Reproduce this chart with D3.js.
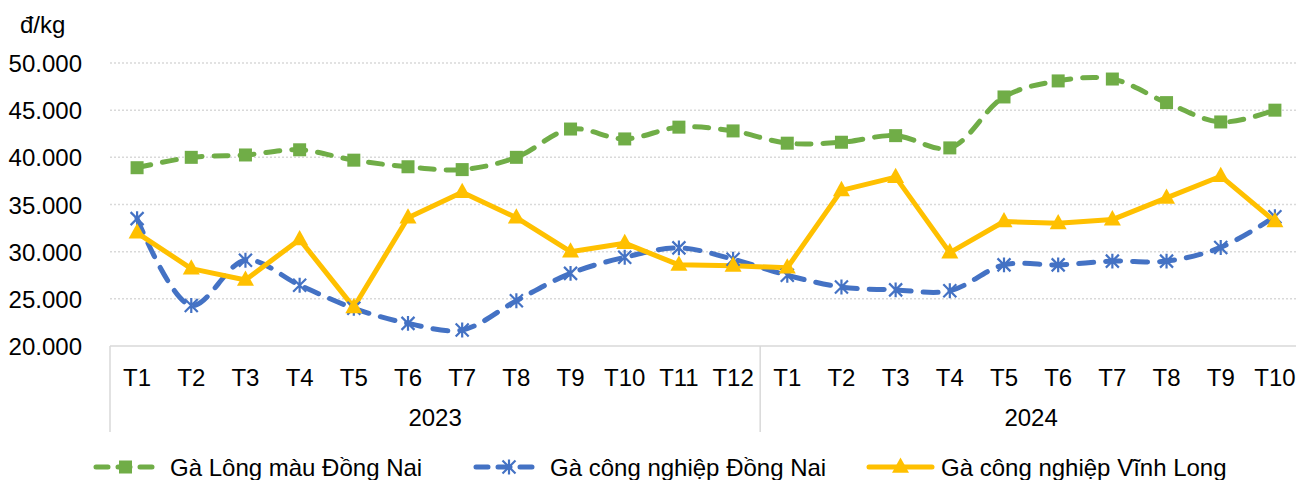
<!DOCTYPE html>
<html>
<head>
<meta charset="utf-8">
<script src="https://cdn.jsdelivr.net/npm/d3@7"></script>
<style>
  body { margin: 0; background: #fff; }
  svg { display: block; font-family: "Liberation Sans", Arial, sans-serif; }
</style>
</head>
<body>
<script>
// data
const years = ["2023", "2024"];
const months2023 = ["T1","T2","T3","T4","T5","T6","T7","T8","T9","T10","T11","T12"];
const months2024 = ["T1","T2","T3","T4","T5","T6","T7","T8","T9","T10"];
const yTicks = [20000, 25000, 30000, 35000, 40000, 45000, 50000];

const gaLongMauDongNai = [38900, 40000, 40250, 40800, 39700, 39000, 38700, 40000, 43000, 41950, 43200, 42800,
                          41500, 41600, 42300, 41000, 46400, 48100, 48300, 45800, 43750, 45000];
const gaCongNghiepDongNai = [33500, 24300, 29100, 26450, 24000, 22400, 21700, 24800, 27700, 29400, 30400, 29200,
                             27500, 26250, 25950, 25850, 28600, 28600, 29000, 29000, 30450, 33700];
const gaCongNghiepVinhLong = [32000, 28200, 27000, 31300, 24100, 33600, 36300, 33600, 30000, 30900, 28600, 28500,
                              28300, 36500, 37900, 29900, 33200, 33000, 33400, 35700, 38000, 33200];

const seriesNames = ["Gà Lông màu Đồng Nai", "Gà công nghiệp Đồng Nai", "Gà công nghiệp Vĩnh Long"];

const W = 1296, H = 480;
const margin = {left: 110, top: 63, bottom: 346};
const plotRight = 1302;   // the plot runs slightly past the right edge

const cats = [].concat(months2023.map(m => "2023-" + m), months2024.map(m => "2024-" + m));
const x = d3.scaleBand().domain(cats).range([margin.left, plotRight]);
const y = d3.scaleLinear().domain([20000, 50000]).range([margin.bottom, margin.top]);

const loc = d3.formatLocale({decimal: ",", thousands: ".", grouping: [3], currency: ["", ""]});
const fmt = loc.format(",");

const svg = d3.select("body").append("svg").attr("width", W).attr("height", H);

const green = "#70AD47", blue = "#4472C4", gold = "#FFC000", grid = "#D9D9D9";
const fontSize = 24;

// gridlines
svg.append("g").selectAll("line")
  .data(yTicks.filter(d => d > 20000))
  .join("line")
  .attr("x1", margin.left).attr("x2", W)
  .attr("y1", d => y(d)).attr("y2", d => y(d))
  .attr("stroke", grid).attr("stroke-width", 1.5)
  .attr("stroke-dasharray", "2,2");

// y axis labels
const yAxis = d3.axisLeft(y).tickValues(yTicks).tickSize(0).tickPadding(0).tickFormat(fmt);
const gy = svg.append("g").attr("transform", "translate(82,0)").call(yAxis);
gy.select(".domain").remove();
gy.selectAll("text")
  .attr("font-size", fontSize).attr("font-family", "Liberation Sans, Arial, sans-serif")
  .attr("fill", "#000").attr("dy", "0.36em");

svg.append("text").attr("x", 20).attr("y", 33)
  .attr("font-size", fontSize).attr("fill", "#000").text("đ/kg");

// category axis
svg.append("line").attr("x1", margin.left).attr("x2", W)
  .attr("y1", margin.bottom).attr("y2", margin.bottom)
  .attr("stroke", grid).attr("stroke-width", 1.5);

const xAxis = d3.axisBottom(x).tickSize(0).tickPadding(0).tickFormat(d => d.split("-")[1]);
const gx = svg.append("g").attr("transform", `translate(0,${margin.bottom})`).call(xAxis);
gx.select(".domain").remove();
gx.selectAll("text")
  .attr("font-size", fontSize).attr("font-family", "Liberation Sans, Arial, sans-serif")
  .attr("fill", "#000").attr("y", 40).attr("dy", 0);

// year groups
const yearStart = {"2023": cats[0], "2024": cats[12]};
const yearEnd = {"2023": cats[11], "2024": cats[cats.length - 1]};
const dividers = [x(cats[0]), x(cats[12]), plotRight];
svg.append("g").selectAll("line").data(dividers).join("line")
  .attr("x1", d => d).attr("x2", d => d)
  .attr("y1", margin.bottom).attr("y2", 432)
  .attr("stroke", grid).attr("stroke-width", 1.5);

svg.append("g").selectAll("text").data(years).join("text")
  .attr("x", d => (x(yearStart[d]) + x(yearEnd[d]) + x.bandwidth()) / 2)
  .attr("y", 426)
  .attr("text-anchor", "middle")
  .attr("font-size", fontSize).attr("fill", "#000")
  .text(d => d);

// lines
const cx = i => x(cats[i]) + x.bandwidth() / 2;
const smooth = d3.line().x((d, i) => cx(i)).y(d => y(d)).curve(d3.curveCatmullRom.alpha(0.5));
const straight = d3.line().x((d, i) => cx(i)).y(d => y(d));

const plot = svg.append("g");

plot.append("path").datum(gaLongMauDongNai)
  .attr("d", smooth).attr("fill", "none")
  .attr("stroke", green).attr("stroke-width", 5)
  .attr("stroke-dasharray", "14,12").attr("stroke-linecap", "round");

plot.append("path").datum(gaCongNghiepDongNai)
  .attr("d", smooth).attr("fill", "none")
  .attr("stroke", blue).attr("stroke-width", 5)
  .attr("stroke-dasharray", "15,12").attr("stroke-linecap", "round");

plot.append("path").datum(gaCongNghiepVinhLong)
  .attr("d", straight).attr("fill", "none")
  .attr("stroke", gold).attr("stroke-width", 5)
  .attr("stroke-linejoin", "round");

// markers
function square(g, s) {
  g.append("rect").attr("x", -s / 2).attr("y", -s / 2).attr("width", s).attr("height", s).attr("fill", green);
}
function star(g, s) {
  const r = s / 2;
  g.append("path")
    .attr("d", `M${-r},${-r}L${r},${r}M${-r},${r}L${r},${-r}M0,${-r * 1.15}L0,${r * 1.15}`)
    .attr("stroke", blue).attr("stroke-width", 2.2).attr("fill", "none");
}
function triangle(g, s) {
  const h = s * 0.9;
  g.append("path")
    .attr("d", `M0,${-h * 0.62}L${s / 2},${h * 0.38}L${-s / 2},${h * 0.38}Z`)
    .attr("fill", gold);
}

plot.append("g").selectAll("g").data(gaLongMauDongNai).join("g")
  .attr("transform", (d, i) => `translate(${cx(i)},${y(d)})`)
  .each(function () { square(d3.select(this), 13); });

plot.append("g").selectAll("g").data(gaCongNghiepDongNai).join("g")
  .attr("transform", (d, i) => `translate(${cx(i)},${y(d)})`)
  .each(function () { star(d3.select(this), 13); });

plot.append("g").selectAll("g").data(gaCongNghiepVinhLong).join("g")
  .attr("transform", (d, i) => `translate(${cx(i)},${y(d)})`)
  .each(function () { triangle(d3.select(this), 17); });

// legend
const legendY = 467;
const legendItems = [
  {name: seriesNames[0], x0: 93, x1: 158, color: green, dash: "12,10", marker: g => square(g, 13), tx: 170},
  {name: seriesNames[1], x0: 473, x1: 545, color: blue, dash: "12,10", marker: g => star(g, 13), tx: 550},
  {name: seriesNames[2], x0: 866, x1: 935, color: gold, dash: null, marker: g => triangle(g, 17), tx: 941}
];
const lg = svg.append("g").selectAll("g").data(legendItems).join("g");
lg.append("line")
  .attr("x1", d => d.x0 + 3).attr("x2", d => d.x1 - 3)
  .attr("y1", legendY).attr("y2", legendY)
  .attr("stroke", d => d.color).attr("stroke-width", 5)
  .attr("stroke-linecap", "round")
  .attr("stroke-dasharray", d => d.dash);
lg.each(function (d) {
  const m = d3.select(this).append("g").attr("transform", `translate(${(d.x0 + d.x1) / 2},${legendY})`);
  d.marker(m);
});
lg.append("text")
  .attr("x", d => d.tx).attr("y", legendY + 9)
  .attr("font-size", fontSize).attr("fill", "#000")
  .text(d => d.name);
</script>
</body>
</html>
